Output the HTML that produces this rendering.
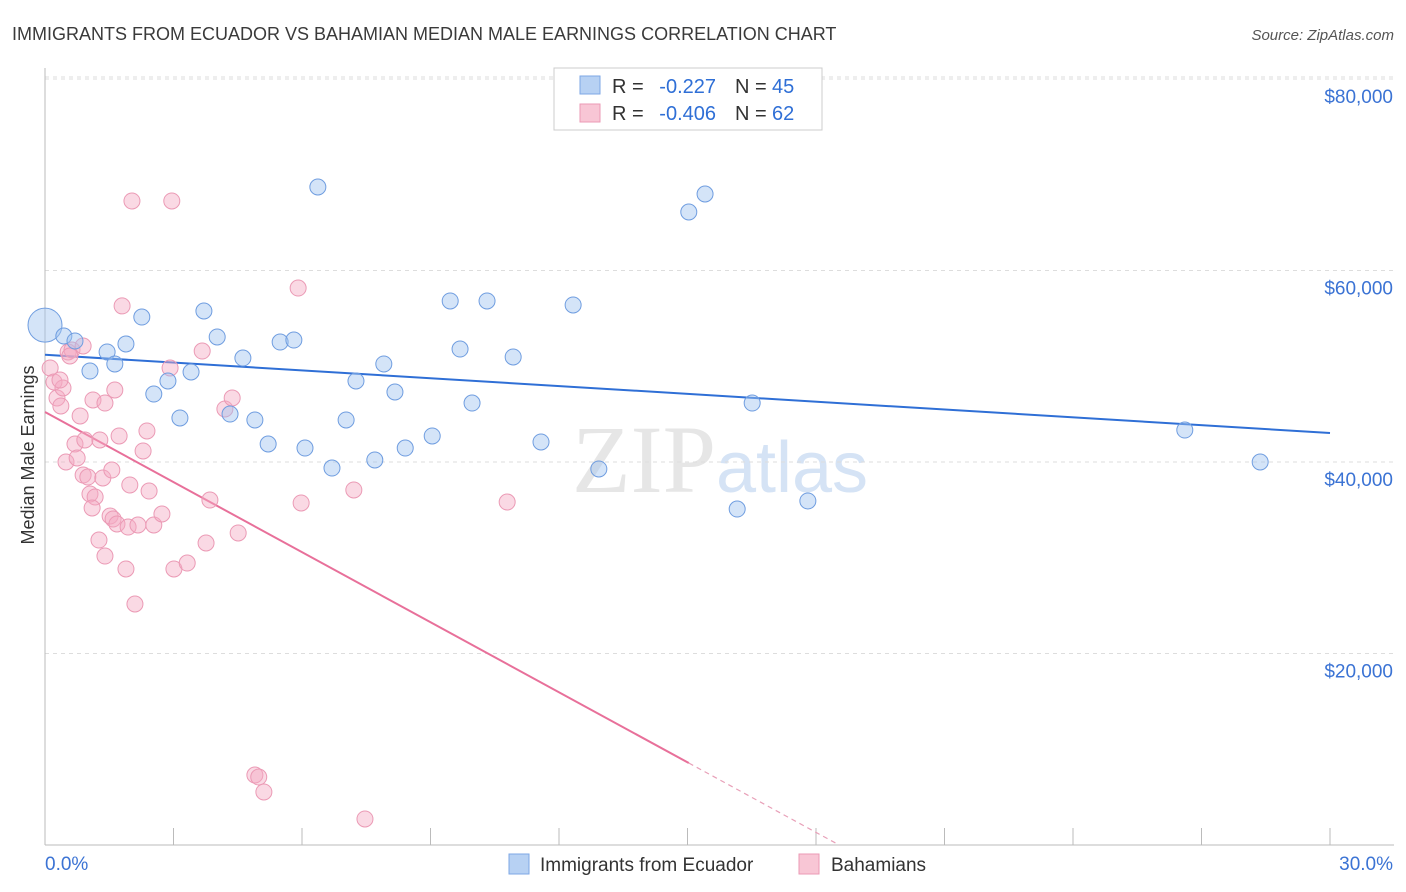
<!DOCTYPE html>
<html><head><meta charset="utf-8">
<style>
body{margin:0;background:#fff;font-family:"Liberation Sans",sans-serif;}
#wrap{position:relative;width:1406px;height:892px;overflow:hidden;}
</style></head>
<body>
<div id="wrap">
<svg id="chart" width="1406" height="892" xmlns="http://www.w3.org/2000/svg">
<text x="12" y="40" font-size="18" fill="#3a3a3a">IMMIGRANTS FROM ECUADOR VS BAHAMIAN MEDIAN MALE EARNINGS CORRELATION CHART</text>
<text x="1394" y="40" font-size="15" fill="#555" text-anchor="end" font-style="italic">Source: ZipAtlas.com</text>
<text x="720" y="492" font-size="96" fill="#e6e6e6" text-anchor="middle" font-family="Liberation Serif,serif">ZIP<tspan fill="#d5e3f5" font-family="Liberation Sans,sans-serif" font-size="72">atlas</tspan></text>
<g id="grid"></g>
<g id="axes"></g>
<g id="lines"></g>
<g id="points"></g>
<text transform="translate(34,455) rotate(-90)" font-size="18" fill="#333" text-anchor="middle">Median Male Earnings</text>
<g>
<rect x="554" y="68" width="268" height="62" fill="#fff" stroke="#ccc"/>
<rect x="580" y="76" width="20" height="18" fill="#b7d1f3" stroke="#7ea7e6"/>
<text x="612" y="93" font-size="20" fill="#333">R =</text>
<text x="716" y="93" font-size="20" fill="#2f6fd6" text-anchor="end">-0.227</text>
<text x="735" y="93" font-size="20" fill="#333">N =</text>
<text x="772" y="93" font-size="20" fill="#2f6fd6">45</text>
<rect x="580" y="104" width="20" height="18" fill="#f8c6d5" stroke="#eb9ab5"/>
<text x="612" y="120" font-size="20" fill="#333">R =</text>
<text x="716" y="120" font-size="20" fill="#2f6fd6" text-anchor="end">-0.406</text>
<text x="735" y="120" font-size="20" fill="#333">N =</text>
<text x="772" y="120" font-size="20" fill="#2f6fd6">62</text>
</g>
<g>
<rect x="509" y="854" width="20" height="20" fill="#b7d1f3" stroke="#7ea7e6"/>
<text x="540" y="871" font-size="19" fill="#333">Immigrants from Ecuador</text>
<rect x="799" y="854" width="20" height="20" fill="#f8c6d5" stroke="#eb9ab5"/>
<text x="831" y="871" font-size="19" fill="#333">Bahamians</text>
</g>
</svg>
</div>
<script>
const xTickValues=[0,3,6,9,12,15,18,21,24,27,30];
const yTickValues=[20000,40000,60000,80000];
const yTickLabels=["$20,000","$40,000","$60,000","$80,000"];
const blueX=[0,0.44,0.70,1.45,1.89,1.05,1.63,2.26,2.54,2.87,3.15,3.41,3.71,4.02,4.32,4.62,4.90,5.21,5.49,5.81,6.07,6.37,6.70,7.03,7.26,7.70,7.91,8.17,8.41,9.04,9.46,9.69,9.97,10.32,10.93,11.58,12.33,12.93,15.03,15.41,16.16,16.51,17.81,26.61,28.37];
const blueY=[54300,53160,52640,51490,52330,49500,50240,55140,47100,48460,44600,49400,55770,53060,45010,50860,44390,41880,52530,52740,41460,68720,39370,44390,48460,40210,50240,47310,41460,42720,56820,51800,46160,56820,50970,42090,56400,39270,66110,67990,35090,46160,35930,43340,40000];
const pinkX=[0.12,0.21,0.28,0.37,0.42,0.54,0.63,0.89,0.49,0.70,0.75,0.82,0.89,1.00,1.05,1.17,1.10,1.12,1.26,1.28,1.35,1.40,1.40,1.52,1.59,1.63,1.68,1.73,1.80,1.89,1.94,1.98,2.03,2.10,2.17,2.29,2.38,2.43,2.54,2.73,2.92,2.96,3.01,3.32,3.67,3.76,3.85,4.20,4.37,4.51,4.90,4.99,5.11,5.91,5.98,7.21,7.47,10.79,0.58,0.35,0.93,1.56];
const pinkY=[49820,48360,46690,45850,47730,51490,51700,52120,40000,41880,40420,44810,38640,38430,36660,36350,35200,46480,31850,42300,38330,46160,30180,34360,34050,47520,33530,42720,56300,28830,33210,37600,67260,25170,33420,41150,43240,36970,33420,34570,49820,67260,28830,29450,51590,31540,36030,45540,46690,32590,7310,7100,5540,58170,35720,37080,2720,35820,51070,48560,42300,39160];
const bigPointIndex=0;
const blueFit=[51200,43030];
const pinkFit=[45220,-2439];
const pinkSolidEnd=15.03;

const X0=45,X1=1330,Y0=845,YPX=191.5/20000;
const sx=v=>X0+(v/30)*(X1-X0);
const sy=v=>Y0-v*YPX;
const NS="http://www.w3.org/2000/svg";
function mk(tag,attrs,parent){const e=document.createElementNS(NS,tag);for(const k in attrs)e.setAttribute(k,attrs[k]);parent.appendChild(e);return e;}
const gridG=document.getElementById('grid'),axesG=document.getElementById('axes'),linesG=document.getElementById('lines'),ptsG=document.getElementById('points');
yTickValues.forEach((v,i)=>{
 const l=mk('line',{x1:X0,x2:1394,y1:sy(v),y2:sy(v),stroke:'#ddd','stroke-dasharray':'4,4'},gridG);
 
 
 const t=mk('text',{x:1393,y:sy(v)+24,'font-size':19,fill:'#3b73d4','text-anchor':'end'},axesG);
 t.textContent=yTickLabels[i];
 
 
});
const topGrid=mk('line',{x1:X0,x2:1394,y1:sy(80000)-2,y2:sy(80000)-2,stroke:'#ddd','stroke-dasharray':'4,4'},gridG);


const ya=mk('line',{x1:X0,x2:X0,y1:68,y2:Y0,stroke:'#bbb'},axesG);


const xa=mk('line',{x1:X0,x2:1394,y1:Y0,y2:Y0,stroke:'#bbb'},axesG);


xTickValues.forEach(v=>{
 const t=mk('line',{x1:sx(v),x2:sx(v),y1:828,y2:Y0,stroke:'#bbb'},axesG);
 
 
});
const xl0=mk('text',{x:45,y:870,'font-size':19,fill:'#3b73d4'},axesG);
xl0.textContent=xTickValues[0].toFixed(1)+'%';


const xl1=mk('text',{x:1393,y:870,'font-size':19,fill:'#3b73d4','text-anchor':'end'},axesG);
xl1.textContent=xTickValues[xTickValues.length-1].toFixed(1)+'%';



pinkX.forEach((x,i)=>{
 const c=mk('circle',{cx:sx(x),cy:sy(pinkY[i]),r:8,fill:'rgba(244,170,195,0.45)',stroke:'#eb9ab5','stroke-width':1},ptsG);
 
 
});
blueX.forEach((x,i)=>{
 const c=mk('circle',{cx:sx(x),cy:sy(blueY[i]),r:i===bigPointIndex?17:8,fill:'rgba(160,195,240,0.45)',stroke:'#6f9de0','stroke-width':1},ptsG);
 
 
});
const bl=mk('line',{x1:sx(0),y1:sy(blueFit[0]),x2:sx(30),y2:sy(blueFit[1]),stroke:'#2f6fd6','stroke-width':2},linesG);


const pAt=x=>pinkFit[0]+pinkFit[1]*x;
const pl=mk('line',{x1:sx(0),y1:sy(pAt(0)),x2:sx(pinkSolidEnd),y2:sy(pAt(pinkSolidEnd)),stroke:'#e8709a','stroke-width':2},linesG);


const zeroX=-pinkFit[0]/pinkFit[1];
const pd=mk('line',{x1:sx(pinkSolidEnd),y1:sy(pAt(pinkSolidEnd)),x2:sx(zeroX),y2:sy(0),stroke:'#e8a0b8','stroke-width':1.2,'stroke-dasharray':'5,4'},linesG);


</script>
</body></html>
